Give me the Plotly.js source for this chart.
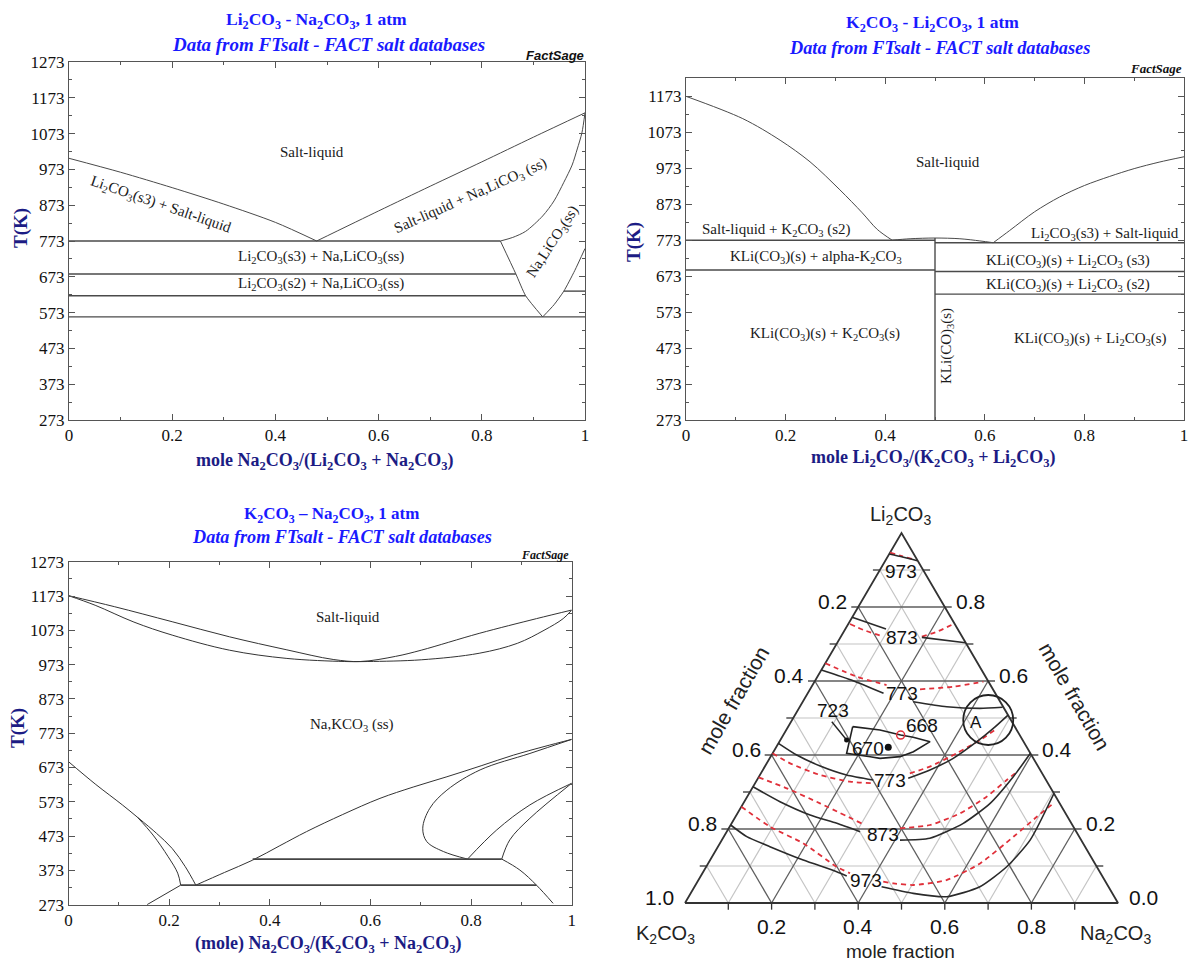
<!DOCTYPE html>
<html><head><meta charset="utf-8">
<script src="https://cdn.plot.ly/plotly-3.0.1.min.js"></script>
<style>body{margin:0;background:#fff}#chart{width:1188px;height:962px}</style>
</head><body><div id="chart"></div>
<script>
// ================= DATA =================
const frac_tickvals = [0, 0.2, 0.4, 0.6, 0.8, 1];
const frac_ticktext = ["0", "0.2", "0.4", "0.6", "0.8", "1"];

// Panel 1: Li2CO3 - Na2CO3  (x = mole Na2CO3 fraction, T in K)
const ln_liqL_x = [0, 0.1, 0.2, 0.3, 0.4, 0.48];
const ln_liqL_T = [1004, 965, 922, 876, 825, 773];
const ln_liqR_x = [0.48, 0.6, 0.7, 0.8, 0.9, 1];
const ln_liqR_T = [773, 857, 926, 994, 1063, 1131];
const ln_sol_x = [0.836, 0.86, 0.885, 0.918, 0.94, 0.959, 0.975, 0.985, 0.994, 1];
const ln_sol_T = [773, 783, 800, 843, 885, 937, 985, 1030, 1075, 1131];
const ln_solvL_x = [0.836, 0.866, 0.885, 0.918];
const ln_solvL_T = [773, 681, 620, 561];
const ln_solvR_x = [0.918, 0.94, 0.959, 0.98, 1];
const ln_solvR_T = [561, 595, 633, 690, 752];
const ln_h_T = [773, 681, 620, 561, 633];
const ln_h_x0 = [0, 0, 0, 0, 0.959];
const ln_h_x1 = [0.836, 0.866, 0.885, 1, 1];
const ln_lab_text = ["Salt-liquid", "Li<sub>2</sub>CO<sub>3</sub>(s3) + Salt-liquid", "Salt-liquid + Na,LiCO<sub>3</sub> (ss)",
  "Li<sub>2</sub>CO<sub>3</sub>(s3) + Na,LiCO<sub>3</sub>(ss)", "Li<sub>2</sub>CO<sub>3</sub>(s2) + Na,LiCO<sub>3</sub>(ss)", "Na,LiCO<sub>3</sub>(ss)"];
const ln_lab_x = [0.47, 0.178, 0.779, 0.488, 0.488, 0.938];
const ln_lab_T = [1022, 874, 899, 728, 653, 770];

// Panel 2: K2CO3 - Li2CO3 (x = mole Li2CO3 fraction)
const kl_liqL_x = [0, 0.114, 0.189, 0.249, 0.309, 0.354, 0.384, 0.414];
const kl_liqL_T = [1173, 1111, 1051, 991, 913, 849, 803, 773];
const kl_dome_x = [0.414, 0.45, 0.5, 0.55, 0.59, 0.617];
const kl_dome_T = [773, 777, 779, 777, 771, 766];
const kl_liqR_x = [0.617, 0.65, 0.7, 0.75, 0.8, 0.85, 0.9, 0.95, 1];
const kl_liqR_T = [766, 800, 852, 893, 925, 950, 972, 990, 1005];
const kl_h_T = [773, 766, 690, 686, 623];
const kl_h_x0 = [0, 0.5, 0, 0.5, 0.5];
const kl_h_x1 = [0.5, 1, 0.5, 1, 1];
const kl_comp_x = [0.5, 0.5];
const kl_comp_T = [273, 779];
const kl_lab_text = ["Salt-liquid", "Salt-liquid + K<sub>2</sub>CO<sub>3</sub> (s2)", "Li<sub>2</sub>CO<sub>3</sub>(s3) + Salt-liquid",
  "KLi(CO<sub>3</sub>)(s) + alpha-K<sub>2</sub>CO<sub>3</sub>", "KLi(CO<sub>3</sub>)(s) + Li<sub>2</sub>CO<sub>3</sub> (s3)",
  "KLi(CO<sub>3</sub>)(s) + Li<sub>2</sub>CO<sub>3</sub> (s2)", "KLi(CO<sub>3</sub>)(s) + K<sub>2</sub>CO<sub>3</sub>(s)",
  "KLi(CO<sub>3</sub>)(s) + Li<sub>2</sub>CO<sub>3</sub>(s)", "KLi(CO)<sub>3</sub>(s)"];
const kl_lab_x = [0.5255, 0.182, 0.842, 0.2605, 0.767, 0.767, 0.279, 0.812, 0.523];
const kl_lab_T = [991, 801, 791, 727, 715, 649, 511, 497, 480];

// Panel 3: K2CO3 - Na2CO3 (x = mole Na2CO3 fraction)
const kn_liq_x = [0, 0.091, 0.206, 0.32, 0.434, 0.526, 0.58, 0.65, 0.701, 0.816, 0.93, 1];
const kn_liq_T = [1174, 1142, 1098, 1054, 1016, 988, 982, 997, 1015, 1064, 1107, 1132];
const kn_sol_x = [0, 0.053, 0.13, 0.206, 0.32, 0.434, 0.549, 0.595, 0.701, 0.816, 0.892, 0.945, 0.983, 1];
const kn_sol_T = [1174, 1146, 1097, 1059, 1015, 991, 982, 982, 987, 1006, 1035, 1073, 1107, 1132];
const kn_solvC_x = [0, 0.053, 0.107, 0.137];
const kn_solvC_T = [690, 625, 564, 528];
const kn_solvIn_x = [0.137, 0.168, 0.198, 0.217, 0.223];
const kn_solvIn_T = [528, 476, 413, 365, 330];
const kn_solvOut_x = [0.137, 0.175, 0.206, 0.232, 0.253];
const kn_solvOut_T = [528, 481, 437, 384, 330];
const kn_lowL_x = [0.223, 0.156];
const kn_lowL_T = [330, 273];
const kn_big_x = [0.253, 0.31, 0.366, 0.42, 0.473, 0.545, 0.619, 0.685, 0.752, 0.82, 0.884, 0.945, 1];
const kn_big_T = [330, 367, 403, 445, 486, 536, 583, 616, 646, 678, 709, 734, 755];
const kn_loop_x = [1, 0.917, 0.818, 0.752, 0.718, 0.704, 0.712, 0.745, 0.793];
const kn_loop_T = [755, 714, 666, 607, 554, 496, 457, 428, 406];
const kn_upA_x = [0.793, 0.851, 0.917, 1];
const kn_upA_T = [406, 491, 564, 627];
const kn_upB_x = [0.861, 0.877, 0.917, 1];
const kn_upB_T = [406, 462, 525, 627];
const kn_down_x = [0.861, 0.897, 0.930, 0.963];
const kn_down_T = [406, 374, 330, 277];
const kn_h_T = [330, 406];
const kn_h_x0 = [0.223, 0.366];
const kn_h_x1 = [0.930, 0.861];
const kn_lab_text = ["Salt-liquid", "Na,KCO<sub>3</sub> (ss)"];
const kn_lab_x = [0.556, 0.564];
const kn_lab_T = [1112, 797];

// Panel 4: ternary K2CO3-Li2CO3-Na2CO3 (compositions: Li = Li2CO3, Na = Na2CO3 mole fractions)
const iso973a_Li = [0.943, 0.935, 0.925];
const iso973a_Na = [0.0, 0.035, 0.074];
const iso873a_Li = [0.772, 0.7405, null, 0.718, 0.7035];
const iso873a_Na = [0.0, 0.094, null, 0.188, 0.296];
const iso773a_Li = [0.63, 0.601, 0.567, null, 0.544, 0.5306, 0.526, 0.529];
const iso773a_Na = [0.0, 0.088, 0.175, null, 0.255, 0.339, 0.418, 0.469];
const iso773b_Li = [0.4316, 0.4, 0.3703, 0.346, 0.3324, null, 0.337, 0.3595, 0.391, 0.436, 0.472, 0.508];
const iso773b_Na = [0.0, 0.058, 0.127, 0.2, 0.2687, null, 0.347, 0.386, 0.424, 0.456, 0.476, 0.492];
const iso873b_Li = [0.314, 0.2738, 0.2378, 0.2153, 0.1927, null, 0.17, 0.175, 0.2153, 0.2694, 0.3414, 0.4045];
const iso873b_Na = [0.0, 0.0825, 0.17, 0.243, 0.308, null, 0.4115, 0.478, 0.535, 0.57, 0.5875, 0.5955];
const iso973b_Li = [0.2108, 0.1793, 0.1523, 0.1162, 0.0847, 0.073, null, 0.044, 0.026, 0.017, 0.044, 0.098, 0.17, 0.296];
const iso973b_Na = [0.0, 0.053, 0.12, 0.215, 0.308, 0.337, null, 0.432, 0.514, 0.596, 0.659, 0.694, 0.712, 0.704];

const red973a_Li = [0.947, 0.938, 0.929];
const red973a_Na = [0.0, 0.03, 0.063];
const red873a_Li = [0.754, 0.738, 0.7216, null, 0.72, 0.733, 0.756];
const red873a_Na = [0.004, 0.043, 0.094, null, 0.187, 0.215, 0.2456];
const red773a_Li = [0.648, 0.6116, 0.589, null, 0.5775, 0.5847, 0.598];
const red773a_Na = [0.0, 0.091, 0.171, null, 0.254, 0.327, 0.39];
const red773b_Li = [0.4045, 0.3775, 0.346, 0.328, 0.3235, null, 0.3505, 0.3685, 0.4045, 0.4405, 0.4676];
const red773b_Na = [0.0, 0.054, 0.139, 0.217, 0.273, null, 0.344, 0.381, 0.425, 0.461, 0.482];
const red873b_Li = [0.3397, 0.31, 0.2694, 0.2153, null, 0.2018, 0.2108, 0.2424, 0.2874, 0.3324, 0.3503];
const red873b_Na = [0.0, 0.08, 0.177, 0.3, null, 0.3956, 0.4604, 0.514, 0.553, 0.5768, 0.587];
const red973b_Li = [0.2603, 0.2063, 0.161, 0.098, 0.0803, null, 0.0576, 0.053, 0.0486, 0.062, 0.107, 0.179, 0.233, 0.269];
const red973b_Na = [0.0, 0.093, 0.193, 0.301, 0.341, null, 0.429, 0.455, 0.503, 0.573, 0.628, 0.669, 0.696, 0.716];

const poly723_Li = [0.4766, 0.4676, 0.454, 0.4478, 0.436, 0.409, 0.3955, 0.391, 0.3955, 0.4045, 0.4766];
const poly723_Na = [0.149, 0.2165, 0.271, 0.303, 0.348, 0.323, 0.299, 0.255, 0.23, 0.171, 0.149];
const arrow723_Li = [0.49, 0.4405];
const arrow723_Na = [0.094, 0.153];
const pt670_Li = [0.4208], pt670_Na = [0.259];
const pt668_Li = [0.454], pt668_Na = [0.271];
const circA_Li = [0.4946], circA_Na = [0.453];

const tern_lab_text = ["973", "873", "773", "773", "873", "973", "723", "670", "668", "A"];
const tern_lab_Li = [0.8954, 0.718, 0.5668, 0.3324, 0.1838, 0.0603, 0.5197, 0.418, 0.481, 0.4884];
const tern_lab_Na = [0.0505, 0.1415, 0.217, 0.308, 0.365, 0.388, 0.0826, 0.214, 0.306, 0.428];

const tern_left_ticks = [0.2, 0.4, 0.6, 0.8, 1.0];   // K2CO3 along left edge
const tern_right_ticks = [0.8, 0.6, 0.4, 0.2, 0.0];  // Li2CO3 along right edge
const tern_bottom_ticks = [0.2, 0.4, 0.6, 0.8];      // Na2CO3 along bottom edge

// ================= DRAWING =================
const W = 1188, H = 962;
const SERIF = '"Liberation Serif", "Times New Roman", serif';
const SANS = '"Liberation Sans", Arial, sans-serif';
const fx = v => v / W, fy = v => 1 - v / H;
const LINE = '#4a4a4a';

const traces = [];
function seg(x, y, xa, ya, color, width, smooth) {
  const ln = {color: color || LINE, width: width || 1};
  if (smooth) { ln.shape = 'spline'; ln.smoothing = smooth; }
  traces.push({type: 'scatter', mode: 'lines', x, y, xaxis: xa, yaxis: ya, hoverinfo: 'skip',
    connectgaps: false, line: ln});
}
function hlines(T, x0, x1, xa, ya, w, c) {
  T.forEach((t, i) => seg([x0[i], x1[i]], [t, t], xa, ya, c || LINE, w));
}

// Panel 1
seg(ln_liqL_x, ln_liqL_T, 'x', 'y', LINE, 1, 0.8);
seg(ln_liqR_x, ln_liqR_T, 'x', 'y', LINE, 1, 0.8);
seg(ln_sol_x, ln_sol_T, 'x', 'y', LINE, 1, 0.8);
seg(ln_solvL_x, ln_solvL_T, 'x', 'y', LINE, 1, 0.6);
seg(ln_solvR_x, ln_solvR_T, 'x', 'y', LINE, 1, 0.6);
hlines(ln_h_T, ln_h_x0, ln_h_x1, 'x', 'y', 1.4);

// Panel 2
seg(kl_liqL_x, kl_liqL_T, 'x2', 'y2', LINE, 1, 0.9);
seg(kl_dome_x, kl_dome_T, 'x2', 'y2', LINE, 1, 0.9);
seg(kl_liqR_x, kl_liqR_T, 'x2', 'y2', LINE, 1, 0.9);
hlines(kl_h_T, kl_h_x0, kl_h_x1, 'x2', 'y2', 1.4);
seg(kl_comp_x, kl_comp_T, 'x2', 'y2', LINE, 1.4);

// Panel 3
const L3 = '#333';
[[kn_liq_x, kn_liq_T], [kn_sol_x, kn_sol_T], [kn_solvC_x, kn_solvC_T], [kn_solvIn_x, kn_solvIn_T],
 [kn_solvOut_x, kn_solvOut_T], [kn_big_x, kn_big_T], [kn_loop_x, kn_loop_T],
 [kn_upA_x, kn_upA_T], [kn_upB_x, kn_upB_T], [kn_down_x, kn_down_T]].forEach(p => seg(p[0], p[1], 'x3', 'y3', L3, 1, 1));
seg(kn_lowL_x, kn_lowL_T, 'x3', 'y3', L3, 1);
hlines(kn_h_T, kn_h_x0, kn_h_x1, 'x3', 'y3', 1.6, '#444');

// Panel 4: ternary drawn in cartesian space (x = Na + Li/2, y = Li)
const tx = (li, na) => (li === null || na === null) ? null : na + li / 2;
const tcurve = (Li, Na) => ({x: Li.map((l, i) => tx(l, Na[i])), y: Li.slice()});
const gMinor = {x: [], y: []}, gMajor = {x: [], y: []}, stubs = {x: [], y: []};
for (let i = 1; i < 10; i++) {
  const v = i / 10, g = (i % 2 === 0) ? gMajor : gMinor;
  g.x.push(v / 2, 1 - v / 2, null); g.y.push(v, v, null);                 // constant Li2CO3
  g.x.push(v, v + (1 - v) / 2, null); g.y.push(0, 1 - v, null);           // constant Na2CO3
  g.x.push(1 - v, (1 - v) / 2, null); g.y.push(0, 1 - v, null);           // constant K2CO3
  stubs.x.push(v / 2, v / 2 - 0.016, null); stubs.y.push(v, v, null);
  stubs.x.push(1 - v / 2, 1 - v / 2 + 0.016, null); stubs.y.push(v, v, null);
  stubs.x.push(v, v, null); stubs.y.push(0, -0.018, null);
}
traces.push({type: 'scatter', mode: 'lines', x: gMinor.x, y: gMinor.y, xaxis: 'x4', yaxis: 'y4', hoverinfo: 'skip', line: {color: '#c4c4c4', width: 1.2}});
traces.push({type: 'scatter', mode: 'lines', x: gMajor.x, y: gMajor.y, xaxis: 'x4', yaxis: 'y4', hoverinfo: 'skip', line: {color: '#5e5e5e', width: 1.3}});
traces.push({type: 'scatter', mode: 'lines', x: stubs.x, y: stubs.y, xaxis: 'x4', yaxis: 'y4', hoverinfo: 'skip', line: {color: '#333', width: 1.3}});
traces.push({type: 'scatter', mode: 'lines', x: [0, 1, 0.5, 0], y: [0, 0, 1, 0], xaxis: 'x4', yaxis: 'y4', hoverinfo: 'skip', line: {color: '#333', width: 1.8}});

const RED = '#e0303a';
[[red973a_Li, red973a_Na], [red873a_Li, red873a_Na], [red773a_Li, red773a_Na], [red773b_Li, red773b_Na],
 [red873b_Li, red873b_Na], [red973b_Li, red973b_Na]].forEach(p => {
  const c = tcurve(p[0], p[1]);
  traces.push({type: 'scatter', mode: 'lines', x: c.x, y: c.y, xaxis: 'x4', yaxis: 'y4', hoverinfo: 'skip', connectgaps: false,
    line: {color: RED, width: 1.8, dash: '5px,4px', shape: 'spline', smoothing: 0.6}});
});
[[iso973a_Li, iso973a_Na], [iso873a_Li, iso873a_Na], [iso773a_Li, iso773a_Na], [iso773b_Li, iso773b_Na],
 [iso873b_Li, iso873b_Na], [iso973b_Li, iso973b_Na]].forEach(p => {
  const c = tcurve(p[0], p[1]);
  traces.push({type: 'scatter', mode: 'lines', x: c.x, y: c.y, xaxis: 'x4', yaxis: 'y4', hoverinfo: 'skip', connectgaps: false,
    line: {color: '#2a2a2a', width: 1.6, shape: 'spline', smoothing: 0.6}});
});
{
  const c = tcurve(poly723_Li, poly723_Na);
  traces.push({type: 'scatter', mode: 'lines', x: c.x, y: c.y, xaxis: 'x4', yaxis: 'y4', hoverinfo: 'skip', line: {color: '#222', width: 1.6}});
  const a = tcurve(arrow723_Li, arrow723_Na);
  traces.push({type: 'scatter', mode: 'lines', x: a.x, y: a.y, xaxis: 'x4', yaxis: 'y4', hoverinfo: 'skip', line: {color: '#222', width: 1.4}});
  traces.push({type: 'scatter', mode: 'markers', x: [a.x[1]], y: [a.y[1]], xaxis: 'x4', yaxis: 'y4', hoverinfo: 'skip', marker: {color: '#111', size: 5}});
  const p0 = tcurve(pt670_Li, pt670_Na);
  traces.push({type: 'scatter', mode: 'markers', x: p0.x, y: p0.y, xaxis: 'x4', yaxis: 'y4', hoverinfo: 'skip', marker: {color: '#111', size: 7}});
  const p1 = tcurve(pt668_Li, pt668_Na);
  traces.push({type: 'scatter', mode: 'markers', x: p1.x, y: p1.y, xaxis: 'x4', yaxis: 'y4', hoverinfo: 'skip', marker: {symbol: 'circle-open', color: RED, size: 8, line: {width: 1.5, color: RED}}});
  const pA = tcurve(circA_Li, circA_Na);
  traces.push({type: 'scatter', mode: 'markers', x: pA.x, y: pA.y, xaxis: 'x4', yaxis: 'y4', hoverinfo: 'skip', cliponaxis: false, marker: {symbol: 'circle-open', color: '#222', size: 50, line: {width: 1.8, color: '#222'}}});
}

// ----- axes -----
function ax(dom, range, anchor, isX) {
  const a = {domain: dom, range, anchor, showgrid: false, zeroline: false,
    showline: true, linecolor: '#555', linewidth: 1, mirror: 'allticks',
    ticks: 'inside', ticklen: 6, tickcolor: '#555', tickwidth: 1, ticklabeloverflow: 'allow',
    tickfont: {family: SERIF, size: 17, color: '#111'}, fixedrange: true};
  if (isX) {
    a.tickmode = 'array'; a.tickvals = frac_tickvals; a.ticktext = frac_ticktext;
    a.minor = {ticks: 'inside', ticklen: 3, tickmode: 'linear', tick0: 0, dtick: 0.1, tickcolor: '#555', showgrid: false};
  } else {
    a.tick0 = 273; a.dtick = 100;
    a.minor = {ticks: 'inside', ticklen: 3, tick0: 273, dtick: 50, tickcolor: '#555', showgrid: false};
  }
  return a;
}
const layout = {
  width: W, height: H, margin: {l: 0, r: 0, t: 0, b: 0}, paper_bgcolor: '#fff', plot_bgcolor: 'rgba(0,0,0,0)',
  showlegend: false,
  xaxis: ax([fx(69), fx(585)], [0, 1], 'y', true),
  yaxis: ax([fy(420), fy(62)], [273, 1273], 'x', false),
  xaxis2: ax([fx(686), fx(1184)], [0, 1], 'y2', true),
  yaxis2: ax([fy(420), fy(78)], [273, 1224], 'x2', false),
  xaxis3: ax([fx(68.5), fx(571.7)], [0, 1], 'y3', true),
  yaxis3: ax([fy(904.7), fy(561.7)], [273, 1273], 'x3', false),
  xaxis4: {domain: [fx(650), fx(1153)], range: [(650 - 685) / 433, (1153 - 685) / 433], visible: false, showticklabels: false, fixedrange: true, anchor: 'y4'},
  yaxis4: {domain: [fy(930), fy(515)], range: [(903 - 930) / 370, (903 - 515) / 370], visible: false, showticklabels: false, fixedrange: true, anchor: 'x4'},
  annotations: []
};
const A = layout.annotations;
function paperText(text, x, y, font, opts) {
  A.push(Object.assign({xref: 'paper', yref: 'paper', x: fx(x), y: fy(y), text, showarrow: false,
    xanchor: 'center', yanchor: 'middle', font}, opts || {}));
}
const BLUE = '#1a1aff', NAVY = '#1c1c84';
// panel titles
paperText('<b>Li<sub>2</sub>CO<sub>3</sub> - Na<sub>2</sub>CO<sub>3</sub>, 1 atm</b>', 316, 20, {family: SERIF, size: 17.5, color: BLUE});
paperText('<b><i>Data from FTsalt - FACT salt databases</i></b>', 328, 45, {family: SERIF, size: 19, color: BLUE});
paperText('<b>K<sub>2</sub>CO<sub>3</sub> - Li<sub>2</sub>CO<sub>3</sub>, 1 atm</b>', 932, 23, {family: SERIF, size: 17.5, color: BLUE});
paperText('<b><i>Data from FTsalt - FACT salt databases</i></b>', 939, 48, {family: SERIF, size: 18.3, color: BLUE});
paperText('<b>K<sub>2</sub>CO<sub>3</sub> – Na<sub>2</sub>CO<sub>3</sub>, 1 atm</b>', 331, 515, {family: SERIF, size: 17, color: BLUE});
paperText('<b><i>Data from FTsalt - FACT salt databases</i></b>', 342, 537, {family: SERIF, size: 18.2, color: BLUE});
// FactSage marks
paperText('<b><i>FactSage</i></b>', 586, 55, {family: SANS, size: 13, color: '#111'}, {xanchor: 'right'});
paperText('<b><i>FactSage</i></b>', 1184, 69, {family: SERIF, size: 13, color: '#111'}, {xanchor: 'right'});
paperText('<b><i>FactSage</i></b>', 571, 555, {family: SERIF, size: 12, color: '#111'}, {xanchor: 'right'});
// axis titles
paperText('<b>mole Na<sub>2</sub>CO<sub>3</sub>/(Li<sub>2</sub>CO<sub>3</sub> + Na<sub>2</sub>CO<sub>3</sub>)</b>', 325, 461, {family: SERIF, size: 18, color: NAVY});
paperText('<b>mole Li<sub>2</sub>CO<sub>3</sub>/(K<sub>2</sub>CO<sub>3</sub> + Li<sub>2</sub>CO<sub>3</sub>)</b>', 933, 458, {family: SERIF, size: 18, color: NAVY});
paperText('<b>(mole) Na<sub>2</sub>CO<sub>3</sub>/(K<sub>2</sub>CO<sub>3</sub> + Na<sub>2</sub>CO<sub>3</sub>)</b>', 328, 944, {family: SERIF, size: 18, color: NAVY});
paperText('<b>T(K)</b>', 21, 228, {family: SERIF, size: 19, color: NAVY}, {textangle: -90});
paperText('<b>T(K)</b>', 634, 242, {family: SERIF, size: 19, color: NAVY}, {textangle: -90});
paperText('<b>T(K)</b>', 18, 728, {family: SERIF, size: 19, color: NAVY}, {textangle: -90});

// region labels
function dataLabels(texts, xs, ys, xr, yr, size, angles) {
  texts.forEach((t, i) => A.push({xref: xr, yref: yr, x: xs[i], y: ys[i], text: t, showarrow: false,
    xanchor: 'center', yanchor: 'middle', textangle: angles ? angles[i] : 0,
    font: {family: SERIF, size, color: '#1a1a1a'}}));
}
dataLabels(ln_lab_text, ln_lab_x, ln_lab_T, 'x', 'y', 15, [0, 19, -24, 0, 0, -57]);
dataLabels(kl_lab_text, kl_lab_x, kl_lab_T, 'x2', 'y2', 15, [0, 0, 0, 0, 0, 0, 0, 0, -90]);
dataLabels(kn_lab_text, kn_lab_x, kn_lab_T, 'x3', 'y3', 15);

// ternary labels
const TF = {family: SANS, size: 19, color: '#111'};
tern_lab_text.forEach((t, i) => A.push({xref: 'x4', yref: 'y4', x: tx(tern_lab_Li[i], tern_lab_Na[i]), y: tern_lab_Li[i],
  text: t, showarrow: false, xanchor: 'center', yanchor: 'middle', font: Object.assign({}, TF, {size: t === 'A' ? 17 : 19})}));
const TK = {family: SANS, size: 21, color: '#111'};
tern_left_ticks.forEach(k => A.push({xref: 'x4', yref: 'y4', x: (1 - k) / 2, y: 1 - k, text: k.toFixed(1), showarrow: false,
  xanchor: 'right', yanchor: 'middle', xshift: -9, yshift: 6, font: TK}));
tern_right_ticks.forEach(l => A.push({xref: 'x4', yref: 'y4', x: 1 - l / 2, y: l, text: l.toFixed(1), showarrow: false,
  xanchor: 'left', yanchor: 'middle', xshift: 9, yshift: 6, font: TK}));
tern_bottom_ticks.forEach(n => A.push({xref: 'x4', yref: 'y4', x: n, y: 0, text: n.toFixed(1), showarrow: false,
  xanchor: 'center', yanchor: 'top', yshift: -10, font: TK}));
paperText('Li<sub>2</sub>CO<sub>3</sub>', 900, 515, {family: SANS, size: 20, color: '#222'});
paperText('K<sub>2</sub>CO<sub>3</sub>', 666, 934, {family: SANS, size: 20, color: '#222'});
paperText('Na<sub>2</sub>CO<sub>3</sub>', 1115, 934, {family: SANS, size: 20, color: '#222'});
paperText('mole fraction', 900, 951, {family: SANS, size: 19, color: '#222'});
paperText('mole fraction', 733, 700, {family: SANS, size: 21, color: '#222'}, {textangle: -60});
paperText('mole fraction', 1075, 696, {family: SANS, size: 21, color: '#222'}, {textangle: 60});

Plotly.newPlot('chart', traces, layout, {displayModeBar: false, staticPlot: true});
</script></body></html>
